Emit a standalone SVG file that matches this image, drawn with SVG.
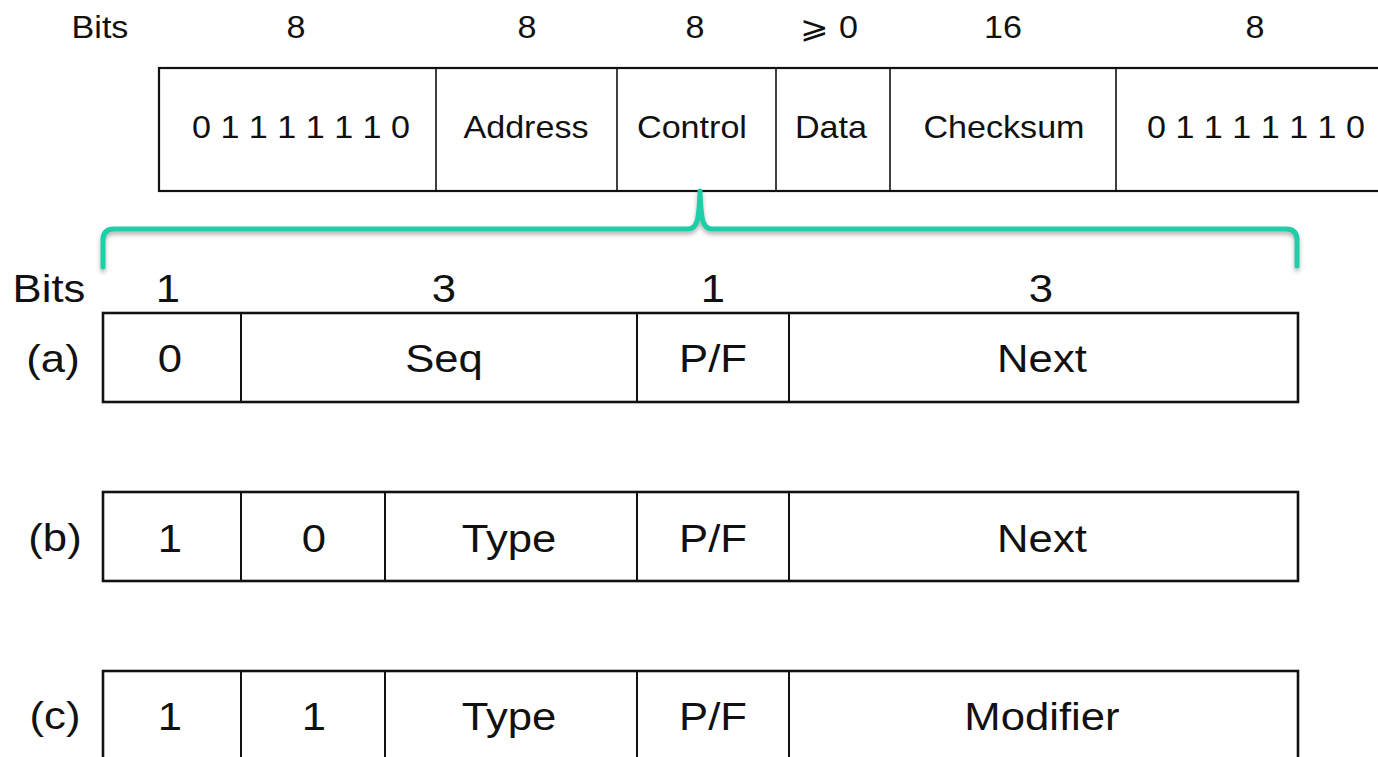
<svg xmlns="http://www.w3.org/2000/svg" width="1378" height="757" viewBox="0 0 1378 757">
  <style>
    text { font-family: "Liberation Sans", Arial, Helvetica, sans-serif; fill: #111; text-anchor: middle;
           transform-box: fill-box; transform-origin: center; }
    .top { font-size: 31px; transform: scaleX(1.1); }
    .bot { font-size: 39px; transform: scaleX(1.12); }
    .frame { fill: none; stroke: #111; stroke-width: 2.2; }
    .div { stroke: #111; stroke-width: 1.6; }
    .row { fill: none; stroke: #111; stroke-width: 2.6; }
    .rdiv { stroke: #111; stroke-width: 2; }
    .brace { fill: none; stroke: #1ccfa9; stroke-width: 5; stroke-linecap: round; stroke-linejoin: round; }
  </style>
  <defs>
    <filter id="shadow" x="-5%" y="-50%" width="110%" height="200%">
      <feDropShadow dx="0" dy="3" stdDeviation="2" flood-color="#555" flood-opacity="0.45"/>
    </filter>
  </defs>

  <rect width="1378" height="757" fill="#fff"/>

  <!-- Frame bit widths -->
  <g id="frame-bits">
    <text class="top" x="100" y="38">Bits</text>
    <text class="top" x="296" y="38">8</text>
    <text class="top" x="527" y="38">8</text>
    <text class="top" x="695" y="38">8</text>
    <text class="top" x="829" y="38">⩾ 0</text>
    <text class="top" x="1003" y="38">16</text>
    <text class="top" x="1255" y="38">8</text>
  </g>

  <!-- Frame layout (runs off the right edge) -->
  <g id="frame">
    <rect class="frame" x="159" y="68" width="1240" height="123"/>
    <line class="div" x1="436" y1="68" x2="436" y2="191"/>
    <line class="div" x1="617" y1="68" x2="617" y2="191"/>
    <line class="div" x1="776" y1="68" x2="776" y2="191"/>
    <line class="div" x1="890" y1="68" x2="890" y2="191"/>
    <line class="div" x1="1116" y1="68" x2="1116" y2="191"/>
    <text class="top" x="301" y="138">0 1 1 1 1 1 1 0</text>
    <text class="top" x="526" y="138">Address</text>
    <text class="top" x="692" y="138">Control</text>
    <text class="top" x="831" y="138">Data</text>
    <text class="top" x="1004" y="138">Checksum</text>
    <text class="top" x="1256" y="138">0 1 1 1 1 1 1 0</text>
  </g>

  <!-- Brace expanding the Control field -->
  <g id="connectors">
    <path class="brace" filter="url(#shadow)"
          d="M103,267 L103,240 Q103,229 114,229 L688,229 C697,229 699,221 700,191 C701,221 703,229 712,229 L1286,229 Q1297,229 1297,240 L1297,266"/>
  </g>

  <!-- Control field bit widths -->
  <g id="control-bits">
    <text class="bot" x="49" y="302">Bits</text>
    <text class="bot" x="168" y="302">1</text>
    <text class="bot" x="444" y="302">3</text>
    <text class="bot" x="713" y="302">1</text>
    <text class="bot" x="1041" y="302">3</text>
  </g>

  <!-- (a) Information -->
  <g id="row-a">
    <text class="bot" x="53" y="372">(a)</text>
    <rect class="row" x="103" y="313" width="1195" height="89"/>
    <line class="rdiv" x1="241" y1="313" x2="241" y2="402"/>
    <line class="rdiv" x1="637" y1="313" x2="637" y2="402"/>
    <line class="rdiv" x1="789" y1="313" x2="789" y2="402"/>
    <text class="bot" x="170" y="372">0</text>
    <text class="bot" x="444" y="372">Seq</text>
    <text class="bot" x="713" y="372">P/F</text>
    <text class="bot" x="1042" y="372">Next</text>
  </g>

  <!-- (b) Supervisory -->
  <g id="row-b">
    <text class="bot" x="55" y="551">(b)</text>
    <rect class="row" x="103" y="492" width="1195" height="89"/>
    <line class="rdiv" x1="241" y1="492" x2="241" y2="581"/>
    <line class="rdiv" x1="385" y1="492" x2="385" y2="581"/>
    <line class="rdiv" x1="637" y1="492" x2="637" y2="581"/>
    <line class="rdiv" x1="789" y1="492" x2="789" y2="581"/>
    <text class="bot" x="170" y="552">1</text>
    <text class="bot" x="314" y="552">0</text>
    <text class="bot" x="509" y="552">Type</text>
    <text class="bot" x="713" y="552">P/F</text>
    <text class="bot" x="1042" y="552">Next</text>
  </g>

  <!-- (c) Unnumbered (runs off the bottom edge) -->
  <g id="row-c">
    <text class="bot" x="55" y="729">(c)</text>
    <rect class="row" x="103" y="671" width="1195" height="89"/>
    <line class="rdiv" x1="241" y1="671" x2="241" y2="760"/>
    <line class="rdiv" x1="385" y1="671" x2="385" y2="760"/>
    <line class="rdiv" x1="637" y1="671" x2="637" y2="760"/>
    <line class="rdiv" x1="789" y1="671" x2="789" y2="760"/>
    <text class="bot" x="170" y="730">1</text>
    <text class="bot" x="314" y="730">1</text>
    <text class="bot" x="509" y="730">Type</text>
    <text class="bot" x="713" y="730">P/F</text>
    <text class="bot" x="1042" y="730">Modifier</text>
  </g>
</svg>
